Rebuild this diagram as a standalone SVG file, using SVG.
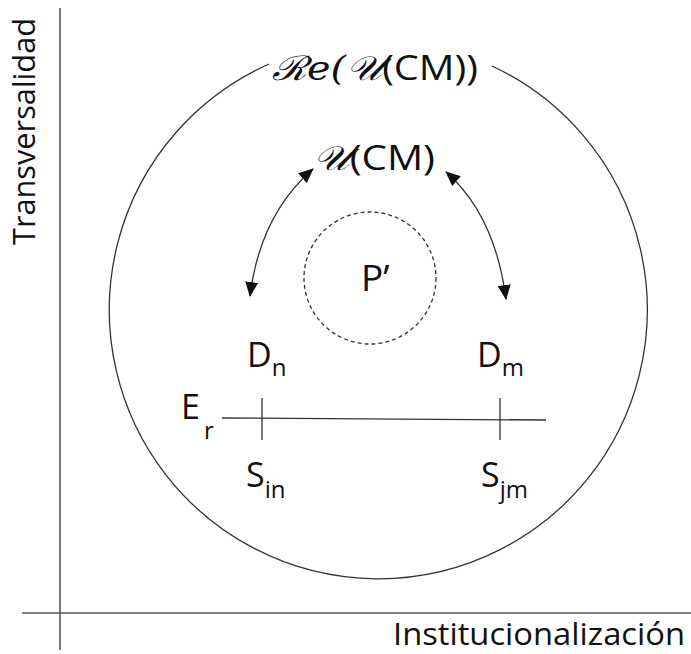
<svg xmlns="http://www.w3.org/2000/svg" width="691" height="654" viewBox="0 0 691 654">
<style>
.ax{stroke:#555;stroke-width:1.6;fill:none}
.ln{stroke:#333;stroke-width:1.3;fill:none}
.t{font-family:"Open Sans","Liberation Sans",sans-serif;fill:#111}
.m{font-family:"DejaVu Serif","Liberation Serif",serif;font-style:italic;fill:#111}
</style>
<defs>
<marker id="ah" viewBox="0 0 15 13" refX="14" refY="6.5" markerWidth="15" markerHeight="13" markerUnits="userSpaceOnUse" orient="auto-start-reverse">
<path d="M0,0 L15,6.5 L0,13 z" fill="#111"/>
</marker>
</defs>
<g id="axes">
<line class="ax" x1="60" y1="8" x2="60" y2="650"/>
<line class="ax" x1="22" y1="613" x2="691" y2="613"/>
<text class="t" x="0" y="0" font-size="31" transform="translate(35,245) rotate(-90)" textLength="227" lengthAdjust="spacingAndGlyphs">Transversalidad</text>
<text class="t" x="393" y="645" font-size="31" textLength="292" lengthAdjust="spacingAndGlyphs">Institucionalización</text>
</g>
<g id="outer">
<path class="ln" d="M492,66 A269,269 0 1 1 269,64"/>
<text x="272" y="80" font-size="34" textLength="206" lengthAdjust="spacingAndGlyphs"><tspan class="m">ℛ𝑒(𝒰</tspan><tspan class="t">(CM))</tspan></text>
</g>
<g id="ucm">
<text x="313" y="170" font-size="34" textLength="122" lengthAdjust="spacingAndGlyphs"><tspan class="m">𝒰</tspan><tspan class="t">(CM)</tspan></text>
</g>
<g id="p">
<circle cx="370" cy="278" r="66" fill="none" stroke="#333" stroke-width="1.3" stroke-dasharray="4 3"/>
<text class="t" x="361" y="291" font-size="37">P’</text>
</g>
<g id="dn"><text class="t" x="247" y="367" font-size="34">D<tspan font-size="24" dy="9">n</tspan></text></g>
<g id="dm"><text class="t" x="477" y="367" font-size="34">D<tspan font-size="24" dy="9">m</tspan></text></g>
<g id="er"><text class="t" x="181" y="419" font-size="34">E<tspan font-size="24" x="204" dy="20">r</tspan></text></g>
<g id="sin"><text class="t" x="246" y="487" font-size="34">S<tspan font-size="24" dy="11">in</tspan></text></g>
<g id="sjm"><text class="t" x="481" y="487" font-size="34">S<tspan font-size="24" dy="11">jm</tspan></text></g>
<g id="connectors">
<path class="ln" d="M250,296 Q260,215 313,169" marker-start="url(#ah)" marker-end="url(#ah)"/>
<path class="ln" d="M506,299 Q495,215 446,172" marker-start="url(#ah)" marker-end="url(#ah)"/>
<line class="ln" x1="222" y1="418" x2="546" y2="420"/>
<line class="ln" x1="262" y1="398" x2="262" y2="440"/>
<line class="ln" x1="500" y1="398" x2="500" y2="440"/>
</g>
</svg>
